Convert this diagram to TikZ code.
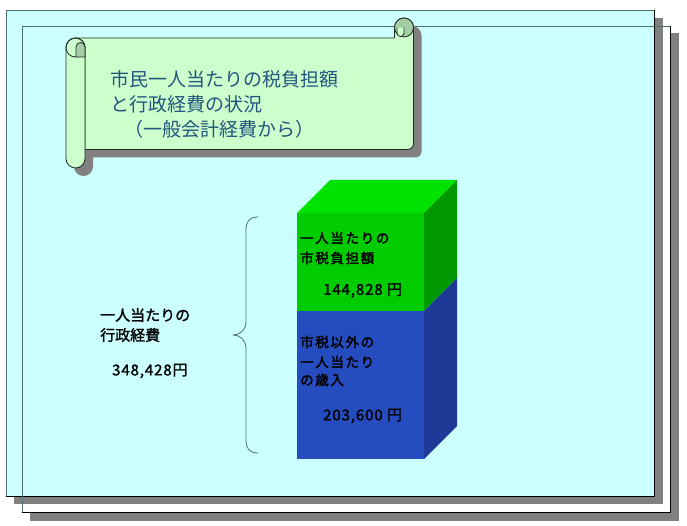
\documentclass[tikz,border=0pt]{standalone}
\usepackage{fontspec}
\newfontfamily\jp{Noto Sans CJK JP}
\newfontfamily\jpbar[FakeBold=2.5,LetterSpace=12]{Noto Sans CJK JP}
\newfontfamily\jplbl[FakeBold=1.5]{Noto Sans CJK JP}
\newfontfamily\jpnum[FakeBold=1.5,LetterSpace=6]{Noto Sans CJK JP}
\definecolor{bgcyan}{RGB}{204,255,255}
\definecolor{shadowgray}{RGB}{128,128,128}
\definecolor{framegray}{RGB}{80,110,110}
\definecolor{scrollgreen}{RGB}{204,255,204}
\definecolor{rollgreen}{RGB}{165,205,165}
\definecolor{scrollline}{RGB}{30,45,40}
\definecolor{titleblue}{RGB}{35,85,125}
\definecolor{topgreen}{RGB}{0,226,0}
\definecolor{frontgreen}{RGB}{0,204,0}
\definecolor{sidegreen}{RGB}{0,153,0}
\definecolor{frontblue}{RGB}{38,77,191}
\definecolor{sideblue}{RGB}{31,58,150}
\begin{document}
\begin{tikzpicture}[x=1pt, y=-1pt, line join=round, line cap=round,
	scroll/.style={fill=scrollgreen, draw=scrollline, line width=0.8pt},
	roll/.style={fill=rollgreen, draw=scrollline, line width=0.8pt},
	title/.style={inner sep=0pt, anchor=west, text=titleblue, font=\jp\fontsize{19}{22}\selectfont},
	bartext/.style={inner sep=0pt, anchor=west, font=\jpbar\fontsize{13.5}{16}\selectfont},
	lbltext/.style={inner sep=0pt, anchor=west, font=\jplbl\fontsize{15}{18}\selectfont},
	numtext/.style={inner sep=0pt, anchor=west, font=\jpnum\fontsize{15}{18}\selectfont}]
	\useasboundingbox (0,0) rectangle (687,526);
	\def\d{33} % depth of the bar
	% sheets
	\fill[shadowgray] (30,33) rectangle (679,521);
	\fill[white] (22,26) rectangle (670,512);
	\fill[shadowgray] (14,18) rectangle (663,504);
	\fill[bgcyan] (6,10) rectangle (654,496);
	\draw[framegray] (6,496) -- (6,10) -- (654,10);
	\draw (654,10) -- (654,496) -- (6,496);
	\draw[framegray] (22,512) -- (22,26) -- (670,26);
	\draw (670,26) -- (670,512) -- (22,512);
	% scroll
	\begin{scope}[shift={(8,8)}]
		\fill[shadowgray] (75.5,38) -- (394.5,38) -- (394.5,27.5) arc[start angle=180, end angle=360, radius=9.5] -- (413.5,143.5) arc[start angle=0, end angle=90, radius=6] -- (85,149.5) -- (85,47.5) -- cycle;
		\fill[shadowgray] (66,47.5) arc[start angle=180, end angle=360, radius=9.5] -- (85,158.5) arc[start angle=0, end angle=180, radius=9.5] -- cycle;
	\end{scope}
	\path[scroll] (75.5,38) -- (394.5,38) -- (394.5,27.5) arc[start angle=180, end angle=360, radius=9.5] -- (413.5,143.5) arc[start angle=0, end angle=90, radius=6] -- (85,149.5) -- (85,47.5) -- cycle;
	\path[roll] (404,27.5) circle[radius=9.5];
	\path[scroll] (397,28) -- (397,33) arc[start angle=180, end angle=0, radius=3.5] -- (404,27.5);
	\path[scroll] (66,47.5) arc[start angle=180, end angle=360, radius=9.5] -- (85,158.5) arc[start angle=0, end angle=180, radius=9.5] -- cycle;
	\draw[scrollline, line width=0.8pt] (75.5,47.5) circle[radius=9.5];
	\path[roll] (76,57) -- (76,47) arc[start angle=180, end angle=360, radius=4.5] -- (85,57) -- cycle;
	\node[title] (t1) at (110,79) {市民一人当たりの税負担額};
	\node[title] (t2) at (110,104.5) {と行政経費の状況};
	\node[title] (t3) at (124,129.5) {（一般会計経費から）};
	% bar
	\fill[frontgreen] (297,213) rectangle (424,311);
	\fill[frontblue] (297,311) rectangle (424,459);
	\fill[topgreen] (297,213) -- ++(\d,-\d) -- (457,180) -- (424,213) -- cycle;
	\fill[sidegreen] (424,213) -- ++(\d,-\d) -- ++(0,98) -- (424,311) -- cycle;
	\fill[sideblue] (424,311) -- ++(\d,-\d) -- ++(0,148) -- (424,459) -- cycle;
	\node[bartext] (g1) at (300,238) {一人当たりの};
	\node[bartext] (g2) at (300,258) {市税負担額};
	\node[numtext] (g3) at (323,290.5) {144,828 円};
	\node[bartext] (b1) at (300,342) {市税以外の};
	\node[bartext] (b2) at (300,362) {一人当たり};
	\node[bartext] (b3) at (300,380) {の歳入};
	\node[numtext] (b4) at (323,416) {203,600 円};
	% brace and total
	\draw[framegray, line width=0.8pt] (258,217) .. controls (249,217) and (246,222) .. (246,230) -- (246,322) .. controls (246,330) and (240,335) .. (233,335) .. controls (240,335) and (246,340) .. (246,348) -- (246,440) .. controls (246,448) and (249,453) .. (258,453);
	\node[lbltext] (l1) at (100,315) {一人当たりの};
	\node[lbltext] (l2) at (100,335) {行政経費};
	\node[numtext] (l3) at (112,371) {348,428円};
\end{tikzpicture}
\end{document}
